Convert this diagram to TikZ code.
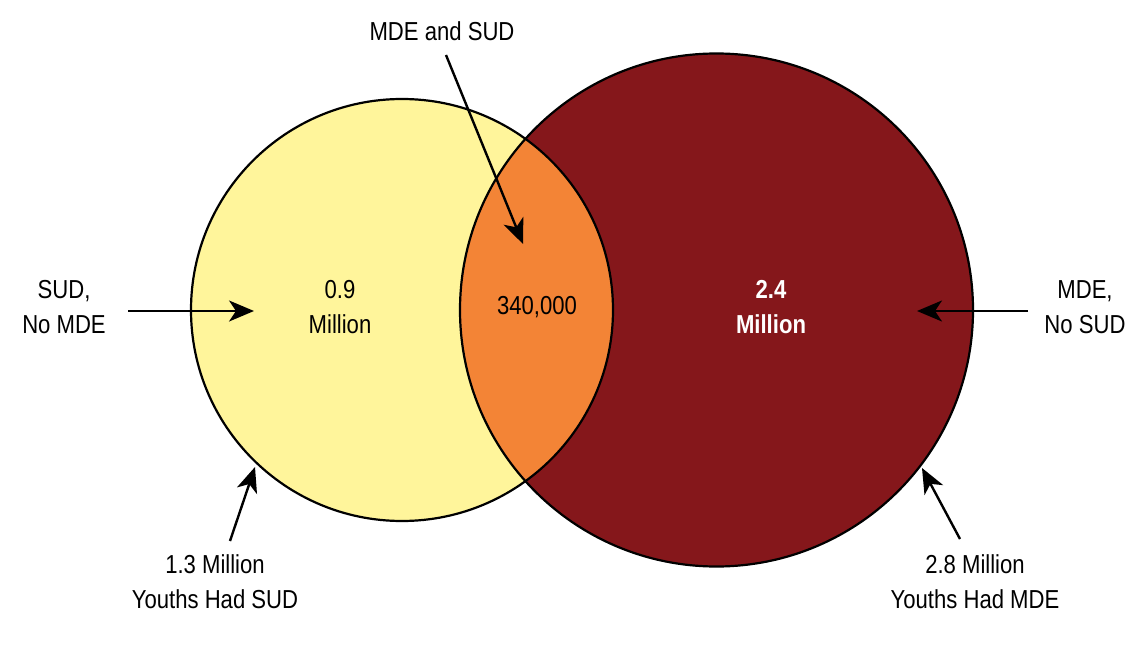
\documentclass[tikz,border=0pt]{standalone}
\usepackage{fontspec}
\setmainfont{Liberation Sans}[FakeStretch=0.85]
\usetikzlibrary{arrows.meta}
\definecolor{sudyel}{HTML}{FFF59B}
\definecolor{mdered}{HTML}{85171B}
\definecolor{bothor}{HTML}{F38436}
\tikzset{
  lbl/.style={align=center,font=\fontsize{26}{35}\selectfont,inner sep=0pt},
  ptr/.style={line width=2.4pt,-{Stealth[length=25pt,width=21pt,inset=7pt]}},
  ring/.style={line width=2.2pt}
}
\begin{document}
\begin{tikzpicture}[x=1pt,y=-1pt]
\useasboundingbox (0,0) rectangle (1138,663);
% circles
\fill[sudyel] (402,310) circle (211);
\fill[mdered] (716.5,310) circle (256.5);
\begin{scope}
  \clip (402,310) circle (211);
  \fill[bothor] (716.5,310) circle (256.5);
\end{scope}
\draw[ring] (402,310) circle (211);
\draw[ring] (716.5,310) circle (256.5);
% inner labels
\node[lbl] (sudonly) at (340,307) {0.9\\Million};
\node[lbl] (both) at (537,307) {340,000};
\node[lbl,text=white,font=\fontsize{26}{35}\selectfont\bfseries] (mdeonly) at (771,307) {2.4\\Million};
% outer labels
\node[lbl] (tSUD) at (64,307) {SUD,\\No MDE};
\node[lbl] (tMDE) at (1085,307) {MDE,\\No SUD};
\node[lbl] (tBoth) at (442,31) {MDE and SUD};
\node[lbl] (tSUDall) at (215,582) {1.3 Million\\Youths Had SUD};
\node[lbl] (tMDEall) at (975,582) {2.8 Million\\Youths Had MDE};
% arrow anchors
\coordinate (a1s) at (128,311); \coordinate (a1e) at (254,311);
\coordinate (a2s) at (1028,311); \coordinate (a2e) at (917,311);
\coordinate (a3s) at (446,55); \coordinate (a3e) at (523,244);
\coordinate (a4s) at (230,541); \coordinate (a4e) at (255,467);
\coordinate (a5s) at (960,539); \coordinate (a5e) at (922,468);
\draw[ptr] (a1s) -- (a1e);
\draw[ptr] (a2s) -- (a2e);
\draw[ptr] (a3s) -- (a3e);
\draw[ptr] (a4s) -- (a4e);
\draw[ptr] (a5s) -- (a5e);
\end{tikzpicture}
\end{document}
